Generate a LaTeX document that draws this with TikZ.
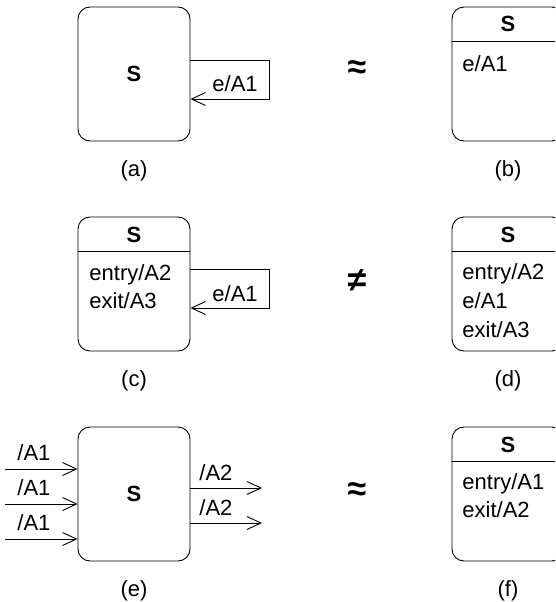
\documentclass[tikz,border=0pt]{standalone}
\usepackage{fontspec}
\setmainfont{Liberation Sans}
\usetikzlibrary{arrows.meta}

\tikzset{
  state/.style={draw, rounded corners=12pt, minimum width=112pt, minimum height=134pt, inner sep=0pt, font=\fontsize{22}{26}\selectfont\bfseries},
  txt/.style={anchor=base west, inner sep=0pt},
  ctxt/.style={anchor=base, inner sep=0pt},
  head/.style={anchor=base, inner sep=0pt, font=\fontsize{22}{26}\selectfont\bfseries},
  sym/.style={inner sep=0pt, font=\fontsize{34}{38}\selectfont\bfseries},
  flow/.style={-{Straight Barb[length=14pt,width=13pt]}}
}

\begin{document}
\begin{tikzpicture}[x=1pt, y=-1pt, line width=0.9pt, every node/.style={font=\fontsize{22}{26}\selectfont}]
    \clip (0,0) rectangle (555,602);

    % (a) and (b)
    \node[state] (sa) at (134,74) {S};
    \coordinate (la1) at (269,60);
    \coordinate (la2) at (269,99);
    \draw[flow] (sa.east |- la1) -- (la1) -- (la2) -- (sa.east |- la2);
    \node[txt] (ea) at (212,92) {e/A1};
    \node[ctxt] (capa) at (134,176) {(a)};

    \node[sym] (eq1) at (357,70) {≈};

    \node[state] (sb) at (508,74) {};
    \draw ([yshift=-35pt]sb.north west) -- ([yshift=-35pt]sb.north east);
    \node[head] (hb) at (508,32) {S};
    \node[txt] (eb) at (462,71) {e/A1};
    \node[ctxt] (capb) at (508,176) {(b)};

    % (c) and (d)
    \node[state] (sc) at (134,284) {};
    \draw ([yshift=-35pt]sc.north west) -- ([yshift=-35pt]sc.north east);
    \node[head] (hc) at (134,242) {S};
    \node[txt] (enc) at (89,280) {entry/A2};
    \node[txt] (exc) at (89,308) {exit/A3};
    \coordinate (lc1) at (269,269);
    \coordinate (lc2) at (269,308);
    \draw[flow] (sc.east |- lc1) -- (lc1) -- (lc2) -- (sc.east |- lc2);
    \node[txt] (ec) at (212,301) {e/A1};
    \node[ctxt] (capc) at (134,386) {(c)};

    \node[sym] (neq) at (357,281) {≠};

    \node[state] (sd) at (508,284) {};
    \draw ([yshift=-35pt]sd.north west) -- ([yshift=-35pt]sd.north east);
    \node[head] (hd) at (508,242) {S};
    \node[txt] (end) at (462,279) {entry/A2};
    \node[txt] (ed) at (462,308) {e/A1};
    \node[txt] (exd) at (462,337) {exit/A3};
    \node[ctxt] (capd) at (508,386) {(d)};

    % (e) and (f)
    \node[state] (se) at (134,494) {S};
    \coordinate (i1) at (5,469);
    \coordinate (i2) at (5,504);
    \coordinate (i3) at (5,539);
    \draw[flow] (i1) -- (i1 -| se.west);
    \draw[flow] (i2) -- (i2 -| se.west);
    \draw[flow] (i3) -- (i3 -| se.west);
    \node[txt] (a11) at (17,460) {/A1};
    \node[txt] (a12) at (17,495) {/A1};
    \node[txt] (a13) at (17,530) {/A1};
    \coordinate (o1) at (262,488);
    \coordinate (o2) at (262,523);
    \draw[flow] (o1 -| se.east) -- (o1);
    \draw[flow] (o2 -| se.east) -- (o2);
    \node[txt] (a21) at (199,480) {/A2};
    \node[txt] (a22) at (199,515) {/A2};
    \node[ctxt] (cape) at (134,596) {(e)};

    \node[sym] (eq2) at (357,492) {≈};

    \node[state] (sf) at (508,494) {};
    \draw ([yshift=-35pt]sf.north west) -- ([yshift=-35pt]sf.north east);
    \node[head] (hf) at (508,452) {S};
    \node[txt] (enf) at (462,489) {entry/A1};
    \node[txt] (exf) at (462,517) {exit/A2};
    \node[ctxt] (capf) at (508,596) {(f)};
\end{tikzpicture}
\end{document}
